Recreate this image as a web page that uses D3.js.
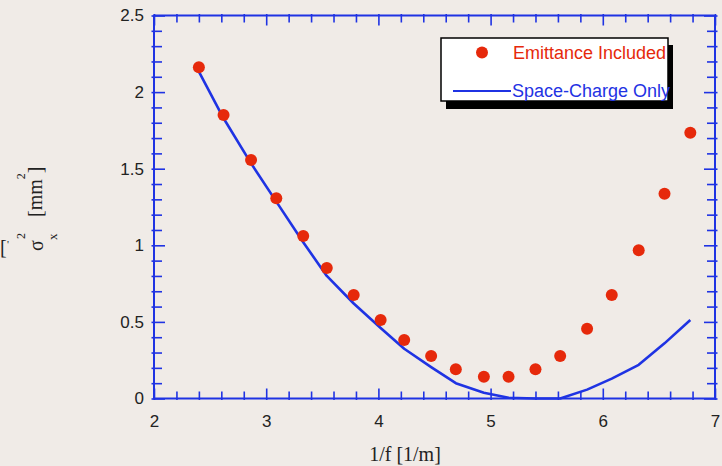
<!DOCTYPE html>
<html>
<head>
<meta charset="utf-8">
<script src="https://cdn.jsdelivr.net/npm/d3@7"></script>
<style>
  html, body { margin: 0; padding: 0; background: #f0ebe7; }
  svg { display: block; }
</style>
</head>
<body>
<svg id="chart" width="722" height="466"></svg>
<script>
// ---- data ----
const invF = [2.40, 2.62, 2.865, 3.09, 3.33, 3.54, 3.78, 4.02, 4.23, 4.47, 4.69, 4.94, 5.16, 5.40, 5.62, 5.86, 6.08, 6.32, 6.55, 6.78];
const emittanceIncluded = [2.162, 1.850, 1.557, 1.307, 1.061, 0.852, 0.676, 0.512, 0.382, 0.277, 0.191, 0.142, 0.142, 0.191, 0.277, 0.456, 0.676, 0.967, 1.337, 1.735];
const spaceChargeOnly = [2.133, 1.829, 1.535, 1.285, 1.02, 0.80, 0.62, 0.46, 0.325, 0.205, 0.10, 0.038, 0.005, 0.0, 0.0, 0.058, 0.13, 0.22, 0.36, 0.512];
const xMajorTicks = [2, 3, 4, 5, 6, 7];
const yMajorTicks = [0, 0.5, 1, 1.5, 2, 2.5];
const yTickLabels = ["0", "0.5", "1", "1.5", "2", "2.5"];
const legendLabels = ["Emittance Included", "Space-Charge Only"];

// ---- setup ----
const blue = "#1f33e3", red = "#e6290b";
const svg = d3.select("#chart");
const x = d3.scaleLinear().domain([2, 7]).range([154, 715]);
const y = d3.scaleLinear().domain([0, 2.5]).range([398.5, 15.5]);

const xMinor = d3.range(0, 26).map(i => 2 + i * 0.2).filter(v => Math.abs(v - Math.round(v)) > 1e-6);
const yMinor = d3.range(0, 26).map(i => i * 0.1).filter(v => Math.abs(v * 2 - Math.round(v * 2)) > 1e-6);

function styleAxis(g) {
  g.selectAll(".domain").remove();
  g.selectAll("line").attr("stroke", blue).attr("stroke-width", 1.6);
}

// bottom axis (ticks inward = up)
svg.append("g").attr("transform", `translate(0,${y(0)})`)
  .call(d3.axisTop(x).tickValues(xMinor).tickSize(7).tickFormat(""))
  .call(styleAxis).selectAll("line").attr("y2", -7).attr("y1", 1.5);
svg.append("g").attr("transform", `translate(0,${y(0)})`)
  .call(d3.axisTop(x).tickValues(xMajorTicks).tickSize(10).tickFormat(""))
  .call(styleAxis).selectAll("line").attr("y2", -10).attr("y1", 1.5);
// top axis (ticks inward = down)
svg.append("g").attr("transform", `translate(0,${y(2.5)})`)
  .call(d3.axisBottom(x).tickValues(xMinor).tickSize(7).tickFormat(""))
  .call(styleAxis).selectAll("line").attr("y1", -1.5);
svg.append("g").attr("transform", `translate(0,${y(2.5)})`)
  .call(d3.axisBottom(x).tickValues(xMajorTicks).tickSize(10).tickFormat(""))
  .call(styleAxis).selectAll("line").attr("y1", -1.5);
// left axis (ticks inward = right)
svg.append("g").attr("transform", `translate(${x(2)},0)`)
  .call(d3.axisRight(y).tickValues(yMinor).tickSize(8).tickFormat(""))
  .call(styleAxis).selectAll("line").attr("x1", -2.5);
svg.append("g").attr("transform", `translate(${x(2)},0)`)
  .call(d3.axisRight(y).tickValues(yMajorTicks).tickSize(11).tickFormat(""))
  .call(styleAxis).selectAll("line").attr("x1", -2.5);
// right axis (ticks inward = left)
svg.append("g").attr("transform", `translate(${x(7)},0)`)
  .call(d3.axisLeft(y).tickValues(yMinor).tickSize(8).tickFormat(""))
  .call(styleAxis).selectAll("line").attr("x1", 2.5);
svg.append("g").attr("transform", `translate(${x(7)},0)`)
  .call(d3.axisLeft(y).tickValues(yMajorTicks).tickSize(11).tickFormat(""))
  .call(styleAxis).selectAll("line").attr("x1", 2.5);

// frame
svg.append("rect")
  .attr("x", x(2)).attr("y", y(2.5))
  .attr("width", x(7) - x(2)).attr("height", y(0) - y(2.5))
  .attr("fill", "none").attr("stroke", blue).attr("stroke-width", 2);

// tick labels
const xl = svg.append("g").attr("transform", `translate(0,${y(0)})`)
  .call(d3.axisBottom(x).tickValues(xMajorTicks).tickSize(0).tickPadding(16).tickFormat(d3.format("d")));
xl.select(".domain").remove();
xl.selectAll("text").attr("font-family", "Liberation Sans, Arial, sans-serif").attr("font-size", 17).attr("fill", "#222");

const yl = svg.append("g").attr("transform", `translate(${x(2)},0)`)
  .call(d3.axisLeft(y).tickValues(yMajorTicks).tickSize(0).tickPadding(10).tickFormat((d, i) => yTickLabels[i]));
yl.select(".domain").remove();
yl.selectAll("text").attr("font-family", "Liberation Sans, Arial, sans-serif").attr("font-size", 17).attr("fill", "#222");

// axis titles
svg.append("text").attr("x", 405).attr("y", 461).attr("text-anchor", "middle")
  .attr("font-family", "Liberation Serif, Times New Roman, serif").attr("font-size", 20).attr("fill", "#222")
  .text("1/f [1/m]");

const serif = "Liberation Serif, Times New Roman, serif";
svg.append("text").attr("transform", "translate(43,251) rotate(-90)")
  .attr("font-family", serif).attr("font-size", 20).attr("fill", "#222").text("σ");
svg.append("text").attr("transform", "translate(25,239) rotate(-90)")
  .attr("font-family", serif).attr("font-size", 12).attr("fill", "#222").text("2");
svg.append("text").attr("transform", "translate(57,240) rotate(-90)")
  .attr("font-family", serif).attr("font-size", 13).attr("fill", "#222").text("x");
const unit = svg.append("text").attr("transform", "translate(42,217) rotate(-90)")
  .attr("font-family", serif).attr("font-size", 20).attr("fill", "#222");
unit.append("tspan").text("[mm");
unit.append("tspan").attr("font-size", 12).attr("dy", -17).text("2");
unit.append("tspan").attr("dy", 17).text("]");
// remnant at the left edge
svg.append("text").attr("x", 0).attr("y", 254)
  .attr("font-family", serif).attr("font-size", 20).attr("fill", "#222").text("[");
svg.append("text").attr("x", 7).attr("y", 248)
  .attr("font-family", serif).attr("font-size", 11).attr("fill", "#222").text("'");

// line
const line = d3.line().x((d, i) => x(invF[i])).y(d => y(d));
svg.append("path").datum(spaceChargeOnly)
  .attr("d", line).attr("fill", "none").attr("stroke", blue).attr("stroke-width", 2.6)
  .attr("stroke-linejoin", "round");

// points
svg.append("g").selectAll("circle").data(emittanceIncluded).join("circle")
  .attr("cx", (d, i) => x(invF[i])).attr("cy", d => y(d)).attr("r", 6).attr("fill", red);

// legend
const lg = svg.append("g");
lg.append("rect").attr("x", 446).attr("y", 45).attr("width", 227).attr("height", 64).attr("fill", "#000");
lg.append("rect").attr("x", 441).attr("y", 38).attr("width", 227).attr("height", 63)
  .attr("fill", "#fff").attr("stroke", "#000").attr("stroke-width", 1.5);
lg.append("circle").attr("cx", 482).attr("cy", 52.5).attr("r", 6).attr("fill", red);
lg.append("text").attr("x", 513).attr("y", 59).attr("font-family", "Liberation Sans, Arial, sans-serif")
  .attr("font-size", 18).attr("fill", red).text(legendLabels[0]);
lg.append("line").attr("x1", 453).attr("x2", 511).attr("y1", 91).attr("y2", 91)
  .attr("stroke", blue).attr("stroke-width", 2);
lg.append("text").attr("x", 512).attr("y", 97).attr("font-family", "Liberation Sans, Arial, sans-serif")
  .attr("font-size", 18).attr("fill", blue).text(legendLabels[1]);
</script>
</body>
</html>
